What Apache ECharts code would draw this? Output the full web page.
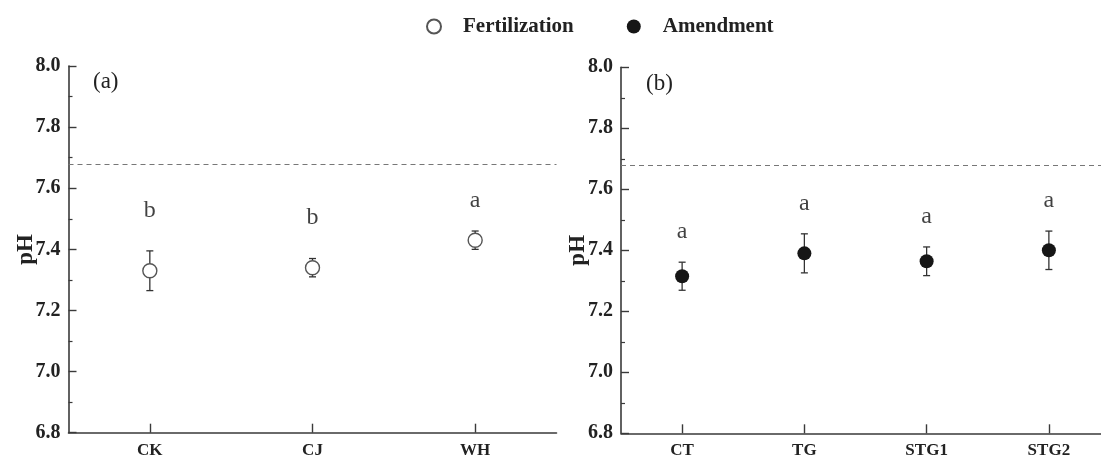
<!DOCTYPE html>
<html>
<head>
<meta charset="utf-8">
<script src="https://cdn.jsdelivr.net/npm/echarts@6/dist/echarts.min.js"></script>
<style>
html,body{margin:0;padding:0;background:#fff;}
#chart{width:1101px;height:456px;}
</style>
</head>
<body>
<div id="chart"></div>
<script>
// ---- data ----
const categoriesA = ['CK', 'CJ', 'WH'];
const meansA = [7.33, 7.34, 7.43];
const errA = [0.065, 0.03, 0.03];
const lettersA = ['b', 'b', 'a'];

const categoriesB = ['CT', 'TG', 'STG1', 'STG2'];
const meansB = [7.315, 7.39, 7.364, 7.40];
const errB = [0.046, 0.064, 0.047, 0.063];
const lettersB = ['a', 'a', 'a', 'a'];

const yMin = 6.8, yMax = 8.0, yStep = 0.2;
const baselinePH = 7.68;
const seriesNames = ['Fertilization', 'Amendment'];
const panelLabels = ['(a)', '(b)'];

// ---- styles ----
const SERIF = '"Liberation Serif","DejaVu Serif",serif';
const AX = '#3a3a3a';

function errRender(params, api) {
  const i = api.value(0);
  const lo = api.coord([i, api.value(1)]);
  const hi = api.coord([i, api.value(2)]);
  const w = 3.5;
  const st = {stroke: '#333', lineWidth: 1.3};
  return {type: 'group', children: [
    {type: 'line', shape: {x1: hi[0], y1: hi[1], x2: lo[0], y2: lo[1]}, style: st},
    {type: 'line', shape: {x1: hi[0] - w, y1: hi[1], x2: hi[0] + w, y2: hi[1]}, style: st},
    {type: 'line', shape: {x1: lo[0] - w, y1: lo[1], x2: lo[0] + w, y2: lo[1]}, style: st}
  ]};
}

function yAxisCfg(gi) {
  return {
    type: 'value', gridIndex: gi, min: yMin, max: yMax, interval: yStep,
    name: 'pH', nameLocation: 'middle', nameGap: 31, nameMoveOverlap: false,
    nameTextStyle: {fontFamily: SERIF, fontWeight: 'bold', fontSize: 23, color: '#222'},
    axisLine: {show: true, lineStyle: {color: AX, width: 1.6}},
    axisTick: {show: true, inside: true, length: 8, lineStyle: {color: AX, width: 1.4}},
    minorTick: {show: true, splitNumber: 2, length: 4, lineStyle: {color: AX, width: 1.2}},
    splitLine: {show: false},
    axisLabel: {fontFamily: SERIF, fontWeight: 'bold', fontSize: 20, color: '#222', margin: 8,
      formatter: v => v.toFixed(1)}
  };
}
function xAxisCfg(gi, cats) {
  return {
    type: 'category', gridIndex: gi, data: cats, boundaryGap: true,
    axisLine: {show: true, lineStyle: {color: AX, width: 1.6}},
    axisTick: {show: true, inside: true, alignWithLabel: true, length: 9, lineStyle: {color: AX, width: 1.4}},
    axisLabel: {fontFamily: SERIF, fontWeight: 'bold', fontSize: 17, color: '#222', margin: 9},
    splitLine: {show: false}
  };
}
function baseline() {
  return {
    silent: true, symbol: 'none', label: {show: false},
    lineStyle: {type: [5, 4], color: '#777', width: 1.2},
    data: [{yAxis: baselinePH}]
  };
}
function panelSeries(gi, name, means, errs, letters, markerStyle) {
  return [
    {
      type: 'custom', xAxisIndex: gi, yAxisIndex: gi, renderItem: errRender,
      encode: {x: 0, y: [1, 2]}, z: 2, silent: true,
      data: means.map((m, i) => [i, m - errs[i], m + errs[i]]),
      markLine: baseline()
    },
    {
      type: 'scatter', name: name, xAxisIndex: gi, yAxisIndex: gi, z: 3,
      symbol: 'circle', symbolSize: 14, itemStyle: markerStyle,
      data: means.map((m, i) => [i, m])
    },
    {
      type: 'scatter', xAxisIndex: gi, yAxisIndex: gi, z: 4, silent: true,
      symbol: 'circle', symbolSize: 1, itemStyle: {color: 'rgba(0,0,0,0)'},
      data: means.map((m, i) => ({
        value: [i, m + errs[i]],
        label: {show: true, position: 'top', distance: letters[i] === 'b' ? 28 : 18,
          fontFamily: SERIF, fontSize: 24, color: '#111', formatter: letters[i]}
      }))
    }
  ];
}

const chart = echarts.init(document.getElementById('chart'), null, {renderer: 'canvas'});
chart.setOption({
  animation: false,
  backgroundColor: '#fff',
  legend: {
    data: seriesNames, left: 426, top: 16, padding: 0, itemWidth: 14, itemHeight: 14, itemGap: 53,
    icon: 'circle',
    textStyle: {fontFamily: SERIF, fontWeight: 'bold', fontSize: 21, color: '#222', padding: [0, 0, 0, 17]}
  },
  grid: [
    {left: 68.5, top: 66, width: 488, height: 366.7, containLabel: false, outerBoundsMode: 'none'},
    {left: 621, top: 67.3, width: 489, height: 366, containLabel: false, outerBoundsMode: 'none'}
  ],
  xAxis: [xAxisCfg(0, categoriesA), xAxisCfg(1, categoriesB)],
  yAxis: [yAxisCfg(0), yAxisCfg(1)],
  graphic: [
    {type: 'text', left: 93, top: 70, style: {text: panelLabels[0], font: '23px ' + SERIF, fill: '#222'}},
    {type: 'text', left: 646, top: 72, style: {text: panelLabels[1], font: '23px ' + SERIF, fill: '#222'}}
  ],
  series: [].concat(
    panelSeries(0, seriesNames[0], meansA, errA, lettersA,
      {color: '#fff', borderColor: '#555', borderWidth: 1.4, opacity: 1}),
    panelSeries(1, seriesNames[1], meansB, errB, lettersB,
      {color: '#161616', borderColor: '#161616', borderWidth: 0, opacity: 1})
  )
});
</script>
</body>
</html>
